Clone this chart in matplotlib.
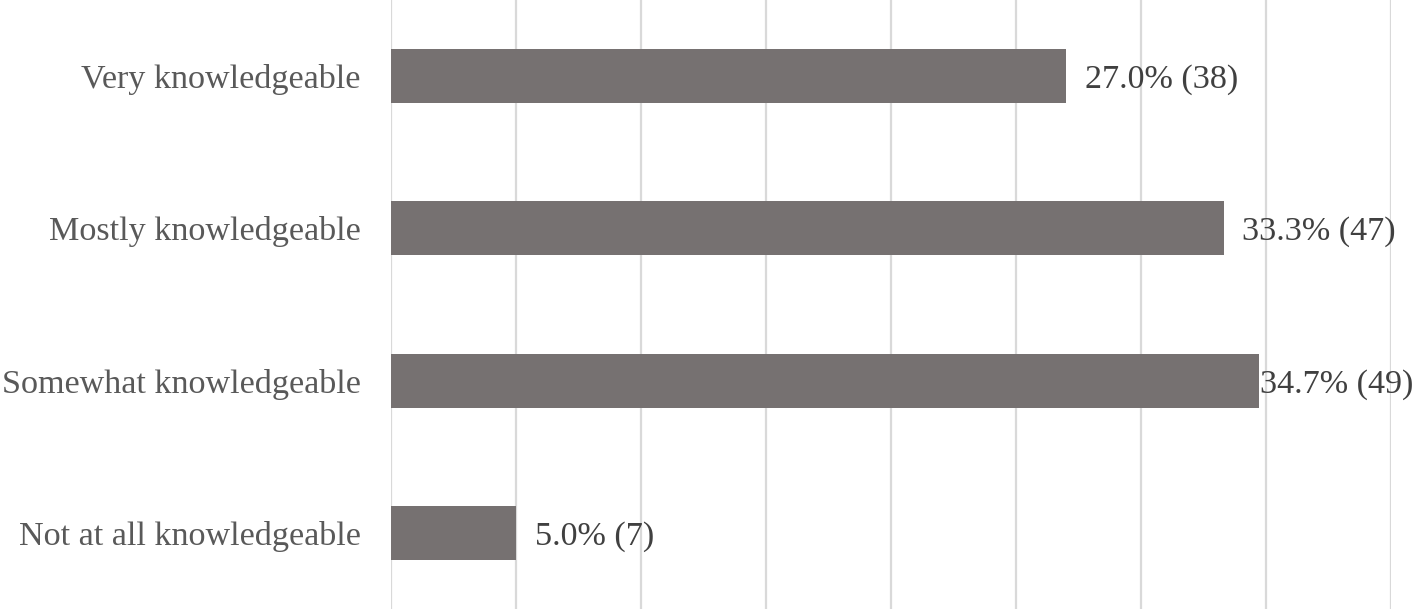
import matplotlib
matplotlib.use("Agg")
import matplotlib.pyplot as plt

categories = ["Not at all knowledgeable", "Somewhat knowledgeable",
              "Mostly knowledgeable", "Very knowledgeable"]
percents = [5.0, 34.7, 33.3, 27.0]
counts = [7, 49, 47, 38]
xticks = [0, 5, 10, 15, 20, 25, 30, 35, 40]

plt.rcParams['font.family'] = ['Liberation Serif', 'DejaVu Serif']

fig = plt.figure(figsize=(14.18, 6.09), dpi=100)
ax = fig.add_axes([391 / 1418, 0.0, 1000 / 1418, 1.0])

y = list(range(len(categories)))
ax.barh(y, percents, height=0.355, color="#767171", zorder=3)

ax.set_xlim(0, 40)
ax.set_ylim(-0.5, 3.5)
ax.set_xticks(xticks)
ax.set_xticklabels([])
ax.tick_params(axis='x', length=0)
ax.tick_params(axis='y', length=0, pad=22, labelsize=24.6, labelcolor="#595959")
ax.set_yticks(y)
ax.set_yticklabels(categories)
ax.grid(axis='x', color="#d9d9d9", linewidth=1.6, zorder=0)
for s in ax.spines.values():
    s.set_visible(False)

for i, (p, c) in enumerate(zip(percents, counts)):
    off = 2 if p == max(percents) else 19
    ax.annotate(f"{p:.1f}% ({c})", xy=(p, i), xytext=(off * 0.72, 0),
                textcoords="offset points", va="center_baseline", ha="left",
                fontsize=24.6, color="#404040", zorder=4)

fig.savefig("out.png", dpi=100)
